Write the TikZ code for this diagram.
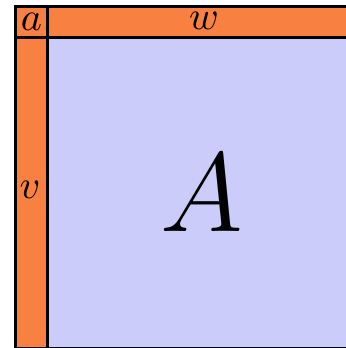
\RequirePackage{fix-cm}
\documentclass[tikz,border=0pt]{standalone}
\usepackage{xcolor}
\usepackage{tikz}
\usetikzlibrary{positioning}

\definecolor{barorange}{RGB}{248,128,64}
\definecolor{blockblue}{RGB}{204,204,250}

\begin{document}
\begin{tikzpicture}[
  bar/.style={draw, line width=0.8pt, fill=barorange, inner sep=0pt, font=\fontsize{11.4}{14}\selectfont},
  block/.style={draw, line width=0.8pt, fill=blockblue, inner sep=0pt}
]
\useasboundingbox (0,0) rectangle (3.45,3.48);

\node[block, anchor=north west, minimum width=3.4cm, minimum height=3.11cm] (mat) at (0.46,3.12) {};
\node[bar, anchor=north west, minimum width=0.32cm, minimum height=0.31cm] (corner) at (0.14,3.43) {$a$};
\node[bar, anchor=north west, minimum width=3.4cm, minimum height=0.31cm] (row) at (0.46,3.43) {};
\node[bar, anchor=north west, minimum width=0.32cm, minimum height=3.11cm] (col) at (0.14,3.12) {};

\node[font=\fontsize{11.4}{14}\selectfont] (wlab) at (2.04,3.275) {$w$};
\node[font=\fontsize{11.4}{14}\selectfont] (vlab) at (0.30,1.58) {$v$};
\node[font=\fontsize{32}{38}\selectfont] (Alab) at (2.02,1.55) {$A$};

\end{tikzpicture}
\end{document}
